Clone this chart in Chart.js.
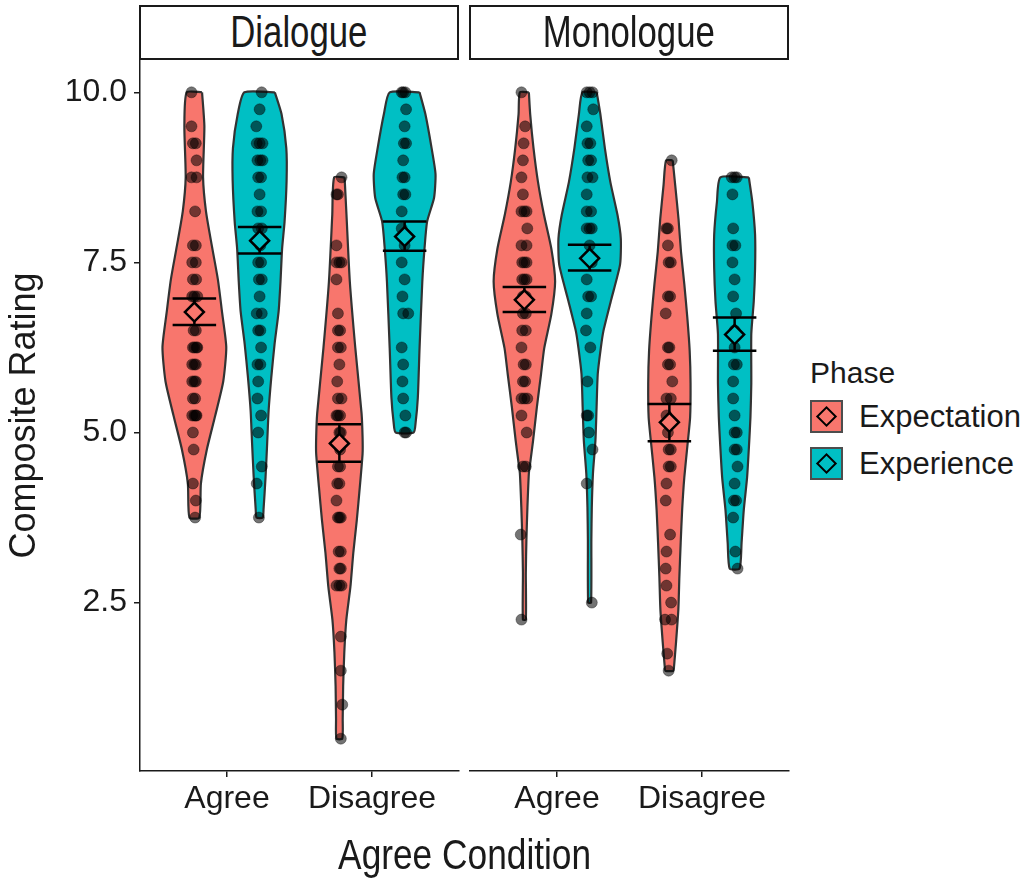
<!DOCTYPE html>
<html>
<head>
<meta charset="utf-8">
<script src="https://cdn.jsdelivr.net/npm/chart.js@4.4.1/dist/chart.umd.min.js"></script>
<style>
  body { margin: 0; background: #fff; width: 1032px; height: 884px; position: relative; overflow: hidden;
         font-family: 'Liberation Sans', Arial, sans-serif; color: #1a1a1a; }
  canvas { position: absolute; top: 0; }
  #chartDialogue { left: 0; }
  #chartMonologue { left: 465px; }
  .strip { position: absolute; top: 5px; height: 55px; width: 320px; box-sizing: border-box;
           border: 2px solid #1a1a1a; background: #fff; font-size: 44px; line-height: 49px; text-align: center; }
  .narrow { display: inline-block; transform: scaleX(0.79); transform-origin: center; white-space: nowrap; }
  #xTitle { position: absolute; left: 140px; width: 649px; top: 834px; font-size: 42px; line-height: 42px; text-align: center; }
  #xTitle .narrow { transform: scaleX(0.84); }
  #legend { position: absolute; left: 810px; top: 358px; }
  .ltitle { font-size: 30px; line-height: 30px; height: 35px; }
  .lrow { display: flex; align-items: center; height: 46.7px; }
  .key { width: 33px; height: 33px; box-sizing: border-box; border: 2px solid #4d4d4d; position: relative; margin-right: 16px; }
  .key i { position: absolute; left: 7px; top: 7px; width: 15px; height: 15px; box-sizing: border-box; border: 2.5px solid #000;
           transform: rotate(45deg); }
  .lrow span.txt { font-size: 31px; line-height: 31px; }
</style>
</head>
<body>
<canvas id="chartDialogue" width="465" height="884"></canvas>
<canvas id="chartMonologue" width="330" height="884"></canvas>
<div id="strips"></div>
<div id="xTitle"></div>
<div id="legend"></div>
<script>
// Facetten, Kategorien, Phasen
const panels = ['Dialogue', 'Monologue'];
const conditions = ['Agree', 'Disagree'];
const phases = ['Expectation', 'Experience'];
const yTicks = [2.5, 5.0, 7.5, 10.0];
const phaseColors = ['#F8766D', '#00BFC4'];

// Violin-Umrisse: [Rating, halbe Breite]
const dlgAgreeExpViolin = [[10,0.053],[9.5,0.069],[8.75,0.060],[8.25,0.080],[7.75,0.120],[7.25,0.162],[6.75,0.192],[6.25,0.220],[5.75,0.199],[5.25,0.144],[4.75,0.086],[4.25,0.045],[3.75,0.034]];
const dlgAgreeExprViolin = [[10,0.105],[9.68,0.151],[9.18,0.184],[8.7,0.186],[8.1,0.172],[7.7,0.155],[7.22,0.144],[6.78,0.131],[6.3,0.103],[5.8,0.080],[5.32,0.062],[4.84,0.052],[4.35,0.041],[3.87,0.027],[3.75,0.021]];
const dlgDisagreeExpViolin = [[8.75,0.036],[8.2,0.049],[7.22,0.072],[6.24,0.110],[5.28,0.153],[4.93,0.160],[4.69,0.160],[4.2,0.141],[3.71,0.120],[3.23,0.096],[2.73,0.076],[2.25,0.048],[1.77,0.034],[1.27,0.026],[0.79,0.023],[0.5,0.020]];
const dlgDisagreeExprViolin = [[10,0.103],[9.68,0.143],[9.18,0.186],[8.8,0.213],[8.45,0.203],[8.1,0.155],[7.7,0.137],[7.22,0.122],[6.24,0.103],[5.51,0.091],[5.15,0.076],[5,0.062]];
const monAgreeExpViolin = [[10,0.031],[9.68,0.040],[9.18,0.063],[8.68,0.094],[8.2,0.135],[7.7,0.186],[7.22,0.212],[6.74,0.186],[6.24,0.137],[5.86,0.115],[5.37,0.086],[4.88,0.060],[4.55,0.040],[4.4,0.031],[3.9,0.021],[3.42,0.014],[2.94,0.010],[2.25,0.010]];
const monAgreeExprViolin = [[10,0.049],[9.68,0.074],[9.18,0.105],[8.68,0.143],[8.2,0.192],[7.85,0.215],[7.47,0.210],[6.97,0.151],[6.49,0.095],[6.24,0.077],[5.86,0.056],[5.37,0.048],[4.88,0.040],[4.4,0.023],[3.9,0.015],[3.42,0.012],[2.5,0.010]];
const monDisagreeExpViolin = [[9,0.023],[8.64,0.040],[8.14,0.063],[7.66,0.080],[7.18,0.103],[6.68,0.124],[6.2,0.140],[5.72,0.146],[5.22,0.143],[4.84,0.126],[4.34,0.103],[3.86,0.088],[3.38,0.078],[2.88,0.069],[2.4,0.062],[1.92,0.046],[1.56,0.032],[1.5,0.028]];
const monDisagreeExprViolin = [[8.75,0.098],[8.39,0.122],[7.91,0.141],[7.41,0.141],[6.93,0.132],[6.45,0.115],[5.72,0.115],[5.22,0.109],[4.84,0.100],[4.34,0.086],[3.86,0.063],[3.38,0.048],[3,0.034]];

// Einzelwerte: [Rating, Jitter]
const dlgAgreeExpPoints = [[10,-0.02],[9.5,-0.02],[9.25,-0.01],[9.25,0.01],[9,0.015],[8.75,-0.02],[8.75,0.015],[8.25,0.005],[7.75,-0.01],[7.75,0.01],[7.5,-0.015],[7.5,0.01],[7.25,-0.01],[7.25,0.012],[7,0],[7,0.02],[7,-0.015],[6.75,0.01],[6.75,-0.01],[6.5,-0.005],[6.5,0.01],[6.25,-0.01],[6.25,0],[6.25,0.015],[6.25,0.02],[6,-0.015],[6,0],[6,0.01],[5.75,-0.015],[5.75,0],[5.75,0.01],[5.5,-0.01],[5.5,0.005],[5.25,-0.015],[5.25,0],[5.25,0.01],[5.25,0.015],[5,-0.01],[4.75,-0.005],[4.25,-0.01],[4,0.01],[3.75,0.005]];
const dlgAgreeExprPoints = [[10,0.014],[9.75,0],[9.5,-0.023],[9.25,-0.02],[9.25,0],[9.25,0.02],[9,-0.015],[9,0.005],[9,0.02],[8.75,-0.01],[8.75,0.01],[8.5,0],[8.25,-0.015],[8.25,0.01],[8,-0.01],[8,0.015],[7.75,0.005],[7.5,-0.01],[7.5,0.01],[7.25,-0.005],[7.25,0.015],[7,0],[6.75,-0.02],[6.75,0.015],[6.5,-0.01],[6.5,0.005],[6.25,0.01],[6,-0.015],[6,0.005],[5.75,-0.01],[5.5,-0.015],[5.25,0.01],[5,-0.01],[4.5,0.015],[4.25,-0.02],[3.75,-0.005]];
const dlgDisagreeExpPoints = [[8.75,0.015],[8.5,-0.02],[8.5,-0.01],[7.75,-0.02],[7.5,-0.02],[7.5,0],[7.5,0.015],[7.25,-0.02],[6.75,-0.01],[6.5,-0.01],[6.5,0.005],[6.25,-0.01],[6.25,0.01],[6,0],[5.75,-0.015],[5.5,-0.01],[5.5,0.015],[5.25,-0.02],[5.25,-0.01],[5.25,0.005],[5,0],[5,0.01],[4.75,0.005],[4.5,-0.01],[4.5,0.005],[4.25,-0.015],[4.25,0],[4,-0.02],[3.75,-0.01],[3.75,0],[3.75,0.01],[3.25,-0.005],[3.25,0.01],[3,0],[3,0.01],[2.75,-0.02],[2.75,0],[2.75,0.015],[2,0.01],[1.5,0.01],[1,0.02],[0.5,0.01]];
const dlgDisagreeExprPoints = [[10,-0.02],[10,-0.01],[10,0.005],[9.75,0.01],[9.5,0],[9.25,-0.005],[9.25,0.01],[9,-0.01],[8.75,-0.015],[8.75,0],[8.5,-0.01],[8.5,0.005],[8.25,-0.02],[8,-0.02],[7.75,0],[7.5,-0.02],[7.25,0],[7,-0.015],[6.75,-0.01],[6.75,0.025],[6.25,-0.02],[6,-0.01],[5.75,-0.015],[5.5,-0.01],[5.25,0.005],[5,0],[5,0.01]];
const monAgreeExpPoints = [[10,-0.02],[9.5,0.005],[9.25,-0.005],[9,-0.01],[8.75,-0.02],[8.5,-0.01],[8.25,-0.02],[8.25,0],[8.25,0.015],[8,0.02],[7.75,-0.02],[7.75,0.015],[7.5,-0.015],[7.5,0],[7.5,0.015],[7.25,-0.015],[7.25,0],[7.25,0.015],[7,-0.01],[7,0.01],[6.75,-0.01],[6.75,0.01],[6.5,-0.015],[6.5,0.01],[6.25,-0.02],[6,-0.005],[6,0.01],[5.75,-0.01],[5.75,0.005],[5.5,-0.02],[5.5,0],[5.5,0.02],[5.25,-0.02],[5,0.016],[4.5,-0.01],[4.5,0.01],[3.5,-0.025],[2.25,-0.02]];
const monAgreeExprPoints = [[10,-0.02],[10,0],[10,0.02],[9.75,0.025],[9.5,-0.02],[9.25,-0.015],[9.25,0.005],[9,-0.01],[9,0.01],[8.75,-0.015],[8.75,0.02],[8.5,-0.02],[8.25,-0.02],[8.25,0.01],[8,-0.02],[8,0],[8,0.015],[7.75,0],[7.5,0.015],[7.25,-0.02],[7,-0.01],[7,0.01],[6.75,-0.02],[6.5,-0.025],[6.25,0.005],[5.75,-0.015],[5.25,-0.02],[5.25,-0.01],[5,-0.005],[4.75,0.02],[4.25,-0.02],[2.5,0.015]];
const monDisagreeExpPoints = [[9,0.016],[8,-0.02],[8,-0.01],[7.75,-0.01],[7.5,-0.005],[7.5,0.01],[7,-0.01],[7,0.005],[6.75,-0.025],[6.25,-0.01],[6.25,0],[6,-0.01],[6,0.005],[5.75,0.02],[5.5,-0.02],[5.5,0.01],[5.25,-0.02],[5,-0.01],[4.75,-0.005],[4.75,0.01],[4.5,-0.005],[4.5,0.01],[4.25,-0.02],[4,-0.025],[3.5,0.005],[3.25,-0.02],[3,-0.025],[2.75,-0.02],[2.5,0.012],[2.25,-0.03],[2.25,0.015],[1.75,-0.015],[1.5,-0.005]];
const monDisagreeExprPoints = [[8.75,-0.02],[8.75,0],[8.75,0.015],[8.5,-0.015],[8,-0.01],[7.75,-0.015],[7.75,0.005],[7.5,-0.015],[7.25,0],[7,-0.01],[6.75,0.01],[6.5,0],[6.25,0],[6,-0.005],[6,0.015],[5.75,-0.01],[5.5,-0.01],[5.25,0],[5,0],[5,0.015],[4.75,0],[4.75,0.015],[4.5,0.02],[4.25,0],[4,-0.005],[4,0.01],[3.75,-0.01],[3.25,0.005],[3,0.02]];

// Mittelwerte und Fehlerbalken (Reihenfolge: Agree/Exp, Agree/Expr, Disagree/Exp, Disagree/Expr)
const dlgMeans = [6.77, 7.82, 4.84, 7.88];
const dlgLow = [6.58, 7.63, 4.57, 7.67];
const dlgHigh = [6.97, 8.02, 5.12, 8.10];
const monMeans = [6.95, 7.56, 5.15, 6.44];
const monLow = [6.77, 7.38, 4.87, 6.20];
const monHigh = [7.14, 7.76, 5.42, 6.69];

const FONT = "'Liberation Sans', Arial, sans-serif";
const INK = '#1a1a1a';
const dodge = 0.225;
const barHalf = 0.15;

function groupX(c, p) {
    return c + 1 + (p === 0 ? -dodge : dodge);
}

function violinPath(profile, cx) {
    const right = profile.map(([r, w]) => ({ x: cx + w, y: r }));
    const left = profile.slice().reverse().map(([r, w]) => ({ x: cx - w, y: r }));
    return right.concat(left, [right[0]]);
}

function buildDatasets(violins, points, means, low, high) {
    const sets = [];
    for (let c = 0; c < 2; c++) {
        for (let p = 0; p < 2; p++) {
            const g = c * 2 + p;
            const cx = groupX(c, p);
            sets.push({
                data: violinPath(violins[g], cx),
                showLine: true, fill: 'shape', tension: 0.2,
                backgroundColor: phaseColors[p], borderColor: '#333333', borderWidth: 2.2,
                pointRadius: 0, pointHitRadius: 0, order: 4
            });
            sets.push({
                data: points[g].map(([r, dx]) => ({ x: cx + dx, y: r })),
                pointRadius: 5.5, backgroundColor: 'rgba(0,0,0,0.55)',
                borderColor: 'rgba(0,0,0,0.35)', borderWidth: 1, order: 3
            });
            sets.push({
                data: [
                    { x: cx - barHalf, y: high[g] }, { x: cx + barHalf, y: high[g] }, { x: cx, y: null },
                    { x: cx - barHalf, y: low[g] }, { x: cx + barHalf, y: low[g] }, { x: cx, y: null },
                    { x: cx, y: low[g] }, { x: cx, y: high[g] }
                ],
                showLine: true, spanGaps: false, borderColor: '#000', borderWidth: 2.5,
                pointRadius: 0, pointHitRadius: 0, fill: false, order: 2
            });
            sets.push({
                data: [{ x: cx, y: means[g] }],
                pointStyle: 'rectRot', pointRadius: 9.5, backgroundColor: phaseColors[p],
                borderColor: '#000', borderWidth: 2.5, order: 1
            });
        }
    }
    return sets;
}

function makeChart(id, datasets, withYAxis, padding) {
    const ctx = document.getElementById(id).getContext('2d');
    return new Chart(ctx, {
        type: 'scatter',
        data: { datasets: datasets },
        options: {
            responsive: false,
            animation: false,
            layout: { padding: padding, autoPadding: false },
            plugins: { legend: { display: false }, tooltip: { enabled: false } },
            scales: {
                x: {
                    type: 'linear', min: 0.4, max: 2.6,
                    afterBuildTicks: s => { s.ticks = conditions.map((c, i) => ({ value: i + 1 })); },
                    afterFit: s => { s.height = 113; s.paddingLeft = 0; s.paddingRight = 0; },
                    ticks: { callback: (v, i) => conditions[i], font: { family: FONT, size: 32 }, color: INK, padding: 3, maxRotation: 0, autoSkip: false },
                    grid: { drawOnChartArea: false, drawTicks: true, tickLength: 6, color: INK, lineWidth: 1.5 },
                    border: { display: true, color: INK, width: 1.5 }
                },
                y: {
                    type: 'linear', min: 0.025, max: 10.475, display: withYAxis,
                    afterBuildTicks: s => { s.ticks = yTicks.map(v => ({ value: v })); },
                    afterFit: s => { s.width = withYAxis ? 140 : 0; s.paddingTop = 0; s.paddingBottom = 0; },
                    ticks: { callback: v => v.toFixed(1), font: { family: FONT, size: 32 }, color: INK, padding: 7 },
                    grid: { drawOnChartArea: false, drawTicks: true, tickLength: 6, color: INK, lineWidth: 1.5 },
                    border: { display: true, color: INK, width: 1.5 },
                    title: { display: true, text: 'Composite Rating', font: { family: FONT, size: 36, lineHeight: 1.0 }, color: INK, padding: { top: 7, bottom: 0 } }
                }
            }
        }
    });
}

makeChart('chartDialogue',
    buildDatasets([dlgAgreeExpViolin, dlgAgreeExprViolin, dlgDisagreeExpViolin, dlgDisagreeExprViolin],
        [dlgAgreeExpPoints, dlgAgreeExprPoints, dlgDisagreeExpPoints, dlgDisagreeExprPoints],
        dlgMeans, dlgLow, dlgHigh),
    true, { top: 60, right: 6, left: 0, bottom: 0 });

makeChart('chartMonologue',
    buildDatasets([monAgreeExpViolin, monAgreeExprViolin, monDisagreeExpViolin, monDisagreeExprViolin],
        [monAgreeExpPoints, monAgreeExprPoints, monDisagreeExpPoints, monDisagreeExprPoints],
        monMeans, monLow, monHigh),
    false, { top: 60, right: 6, left: 5, bottom: 0 });

// Streifen, Achsentitel, Legende
const strips = document.getElementById('strips');
panels.forEach((name, i) => {
    const d = document.createElement('div');
    d.className = 'strip';
    d.style.left = (139 + i * 330) + 'px';
    d.innerHTML = `<span class="narrow">${name}</span>`;
    strips.appendChild(d);
});
document.getElementById('xTitle').innerHTML = '<span class="narrow">Agree Condition</span>';

const legend = document.getElementById('legend');
legend.innerHTML = '<div class="ltitle">Phase</div>';
phases.forEach((name, i) => {
    const row = document.createElement('div');
    row.className = 'lrow';
    row.innerHTML = `<span class="key" style="background:${phaseColors[i]}"><i style="background:${phaseColors[i]}"></i></span><span class="txt">${name}</span>`;
    legend.appendChild(row);
});
</script>
</body>
</html>
